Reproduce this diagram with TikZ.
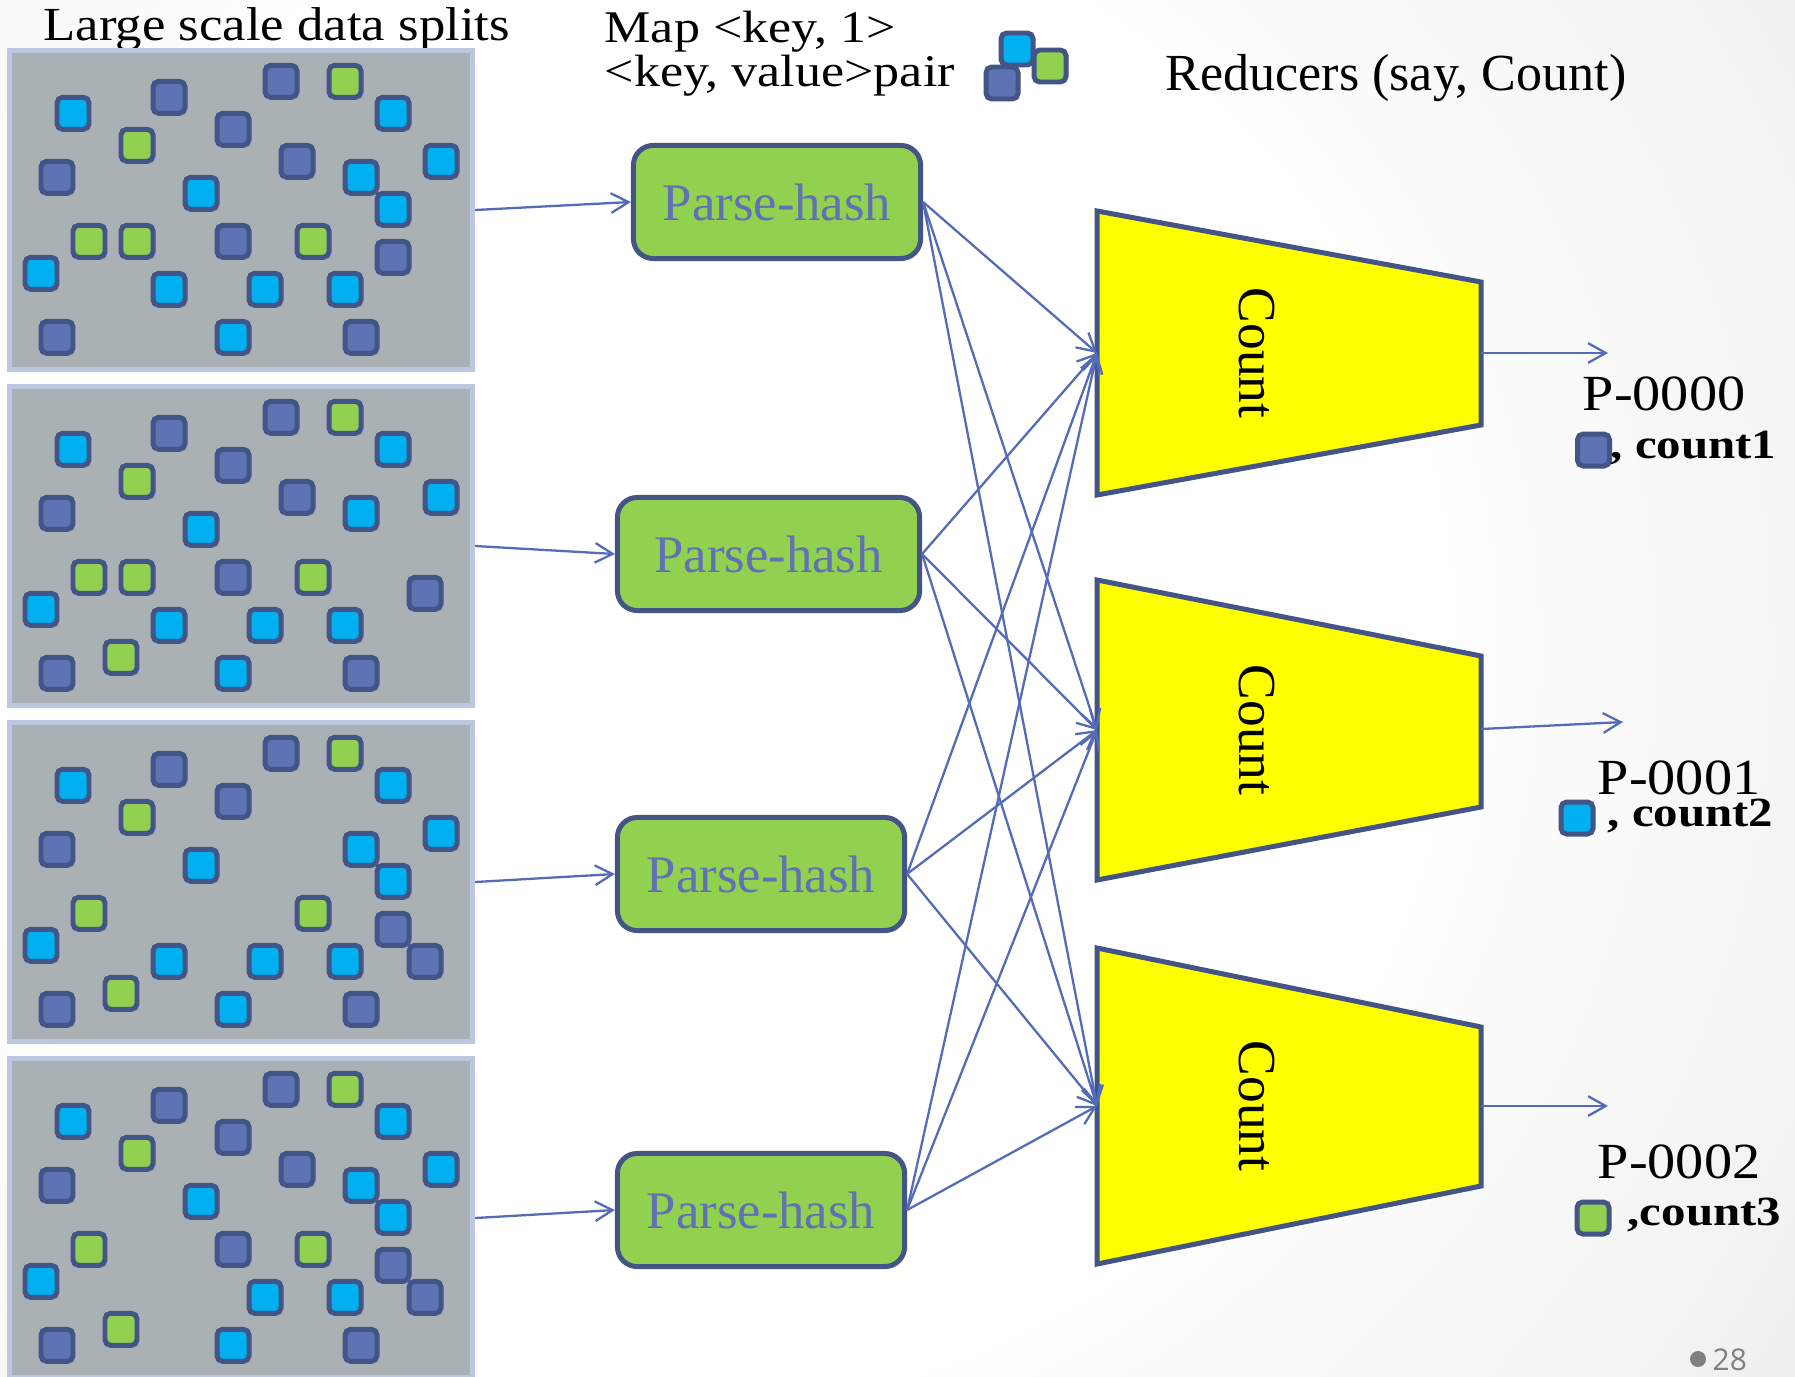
\documentclass[tikz,border=0pt]{standalone}
\usepackage{graphicx}
\usepackage{fontspec}
\setmainfont{Liberation Serif}
\newfontfamily\pagenumfont{Open Sans}
\usetikzlibrary{arrows.meta}

\definecolor{sqborder}{RGB}{67,84,134}
\definecolor{sqpurple}{RGB}{94,115,179}
\definecolor{sqcyan}{RGB}{0,176,240}
\definecolor{sqgreen}{RGB}{146,208,80}
\definecolor{splitfill}{RGB}{170,177,180}
\definecolor{splitedge}{RGB}{188,199,224}
\definecolor{flow}{RGB}{84,108,182}
\definecolor{hashtext}{RGB}{96,114,178}
\definecolor{countfill}{RGB}{255,255,0}
\definecolor{pagenum}{RGB}{128,128,128}

\pgfdeclareradialshading{pagebg}{\pgfpoint{0bp}{0bp}}{color(0bp)=(white); color(8.75bp)=(white); color(31.25bp)=(black!18); color(50bp)=(black!18)}

% key squares of one data split; #1 = top of the split, #2 = list of i/j/colour
\newcommand\splitkeys[2]{%
  \foreach \i/\j/\c in {#2}{%
    \filldraw[keysq, fill=\c] ({25+16*\i},{#1+17.3+16*\j}) rectangle ++(32,32);
  }%
}
% text set a little lower than wide: #1 = vertical factor
\newcommand\lowtext[2]{\scalebox{1}[#1]{#2}}

\tikzset{
  keysq/.style={draw=sqborder, line width=1.42pt, rounded corners=1.6pt},
  splitblock/.style={draw=splitedge, fill=splitfill, line width=1.42pt,
    minimum width=4.63cm, minimum height=3.19cm, inner sep=0pt},
  hashbox/.style={draw=sqborder, fill=sqgreen, line width=1.42pt, rounded corners=5.6pt,
    minimum height=1.13cm, inner sep=0pt, text=hashtext, font=\fontsize{15}{18}\selectfont},
  reducer/.style={draw=sqborder, fill=countfill, line width=1.42pt, line join=miter},
  flowarrow/.style={draw=flow, line width=0.65pt, -{Straight Barb[length=5pt,width=5.6pt]}},
  header/.style={anchor=base west, inner sep=0pt},
  plabel/.style={anchor=base west, inner sep=0pt, font=\fontsize{16}{18}\selectfont},
  clabel/.style={anchor=base west, inner sep=0pt, font=\bfseries\fontsize{13.9}{16}\selectfont},
  countlabel/.style={rotate=-90, inner sep=0pt, font=\fontsize{15.2}{18}\selectfont}
}

\begin{document}
\begin{tikzpicture}[x=0.01cm, y=-0.01cm]
\useasboundingbox (0,0) rectangle (1795,1376);

% page background
\begin{scope}
  \clip (0,0) rectangle (1795,1376);
  \shade[shading=pagebg] (700,650) circle (20cm);
\end{scope}

% headings
\node[header, font=\fontsize{15}{17}\selectfont] (hsplits) at (43,41) {\lowtext{0.9}{Large scale data splits}};
\node[header, font=\fontsize{14.8}{17}\selectfont] (hmap) at (604,42.5) {\lowtext{0.87}{Map <key, 1>}};
\node[header, font=\fontsize{14.8}{17}\selectfont] (hpair) at (604,87) {\lowtext{0.87}{<key, value>pair}};
\node[header, font=\fontsize{14.8}{17}\selectfont] (hred) at (1165,91) {Reducers (say, Count)};

% key/value pair icon
\filldraw[keysq, fill=sqcyan] (1001,33) rectangle ++(32,32);
\filldraw[keysq, fill=sqgreen] (1034,50) rectangle ++(32,32);
\filldraw[keysq, fill=sqpurple] (986,67) rectangle ++(32,32);

% data splits
\node[splitblock] (split1) at (241,210) {};
\node[splitblock] (split2) at (241,546) {};
\node[splitblock] (split3) at (241,882) {};
\node[splitblock] (split4) at (241,1218) {};

\splitkeys{48}{15/0/sqpurple, 19/0/sqgreen, 8/1/sqpurple, 2/2/sqcyan, 22/2/sqcyan,
  12/3/sqpurple, 6/4/sqgreen, 16/5/sqpurple, 25/5/sqcyan, 1/6/sqpurple, 20/6/sqcyan,
  10/7/sqcyan, 22/8/sqcyan, 3/10/sqgreen, 6/10/sqgreen, 12/10/sqpurple, 17/10/sqgreen,
  22/11/sqpurple, 0/12/sqcyan, 8/13/sqcyan, 14/13/sqcyan, 19/13/sqcyan,
  1/16/sqpurple, 12/16/sqcyan, 20/16/sqpurple}

\splitkeys{384}{15/0/sqpurple, 19/0/sqgreen, 8/1/sqpurple, 2/2/sqcyan, 22/2/sqcyan,
  12/3/sqpurple, 6/4/sqgreen, 16/5/sqpurple, 25/5/sqcyan, 1/6/sqpurple, 20/6/sqcyan,
  10/7/sqcyan, 3/10/sqgreen, 6/10/sqgreen, 12/10/sqpurple, 17/10/sqgreen,
  24/11/sqpurple, 0/12/sqcyan, 8/13/sqcyan, 14/13/sqcyan, 19/13/sqcyan, 5/15/sqgreen,
  1/16/sqpurple, 12/16/sqcyan, 20/16/sqpurple}

\splitkeys{720}{15/0/sqpurple, 19/0/sqgreen, 8/1/sqpurple, 2/2/sqcyan, 22/2/sqcyan,
  12/3/sqpurple, 6/4/sqgreen, 25/5/sqcyan, 1/6/sqpurple, 20/6/sqcyan,
  10/7/sqcyan, 22/8/sqcyan, 3/10/sqgreen, 17/10/sqgreen,
  22/11/sqpurple, 0/12/sqcyan, 8/13/sqcyan, 14/13/sqcyan, 19/13/sqcyan, 24/13/sqpurple,
  5/15/sqgreen, 1/16/sqpurple, 12/16/sqcyan, 20/16/sqpurple}

\splitkeys{1056}{15/0/sqpurple, 19/0/sqgreen, 8/1/sqpurple, 2/2/sqcyan, 22/2/sqcyan,
  12/3/sqpurple, 6/4/sqgreen, 16/5/sqpurple, 25/5/sqcyan, 1/6/sqpurple, 20/6/sqcyan,
  10/7/sqcyan, 22/8/sqcyan, 3/10/sqgreen, 12/10/sqpurple, 17/10/sqgreen,
  22/11/sqpurple, 0/12/sqcyan, 14/13/sqcyan, 19/13/sqcyan, 24/13/sqpurple,
  5/15/sqgreen, 1/16/sqpurple, 12/16/sqcyan, 20/16/sqpurple}

% map tasks
\node[hashbox, minimum width=2.87cm] (ph1) at (777,202) {Parse-hash};
\node[hashbox, minimum width=3.02cm] (ph2) at (768.5,554) {Parse-hash};
\node[hashbox, minimum width=2.87cm] (ph3) at (761,874) {Parse-hash};
\node[hashbox, minimum width=2.87cm] (ph4) at (761,1210) {Parse-hash};

% reducers
\draw[reducer] (1097,211) -- (1481,282) -- (1481,425) -- (1097,495) -- cycle;
\draw[reducer] (1097,580) -- (1481,656) -- (1481,807) -- (1097,880) -- cycle;
\draw[reducer] (1097,948) -- (1481,1027) -- (1481,1186) -- (1097,1264) -- cycle;
\node[countlabel] (cnt1) at (1257,353) {Count};
\node[countlabel] (cnt2) at (1257,730) {Count};
\node[countlabel] (cnt3) at (1257,1106) {Count};

\coordinate (r1in) at (1097,353);
\coordinate (r2in) at (1097,730);
\coordinate (r3in) at (1097,1106);
\coordinate (r1out) at (1481,353);
\coordinate (r2out) at (1481,729);
\coordinate (r3out) at (1481,1106);
\coordinate (o1) at (1608,353);
\coordinate (o2) at (1623,722);
\coordinate (o3) at (1608,1106);

% splits into map tasks
\draw[flowarrow] (split1.east) -- (ph1.west);
\draw[flowarrow] (split2.east) -- (ph2.west);
\draw[flowarrow] (split3.east) -- (ph3.west);
\draw[flowarrow] (split4.east) -- (ph4.west);

% shuffle: every map task feeds every reducer
\foreach \p in {ph1,ph2,ph3,ph4}
  \foreach \r in {r1in,r2in,r3in}
    \draw[flowarrow] (\p.east) -- (\r);

% reducer outputs
\draw[flowarrow] (r1out) -- (o1);
\draw[flowarrow] (r2out) -- (o2);
\draw[flowarrow] (r3out) -- (o3);

\node[plabel] (out1) at (1582,410) {\lowtext{0.9}{P-0000}};
\filldraw[keysq, fill=sqpurple] (1577.5,434) rectangle ++(32,32);
\node[clabel] (cnt1lbl) at (1610,458) {\lowtext{0.85}{, count1}};

\node[plabel] (out2) at (1597,794) {\lowtext{0.9}{P-0001}};
\filldraw[keysq, fill=sqcyan] (1561,802) rectangle ++(32,32);
\node[clabel] (cnt2lbl) at (1607,826) {\lowtext{0.85}{, count2}};

\node[plabel] (out3) at (1597,1178) {\lowtext{0.9}{P-0002}};
\filldraw[keysq, fill=sqgreen] (1577,1202) rectangle ++(32,32);
\node[clabel] (cnt3lbl) at (1627,1225) {\lowtext{0.85}{,count3}};

% slide number
\fill[pagenum] (1698,1359) circle (0.08cm);
\node[anchor=base west, text=pagenum, inner sep=0pt, font=\pagenumfont\fontsize{8.5}{10}\selectfont] (pgno) at (1712,1370) {28};
\end{tikzpicture}
\end{document}
